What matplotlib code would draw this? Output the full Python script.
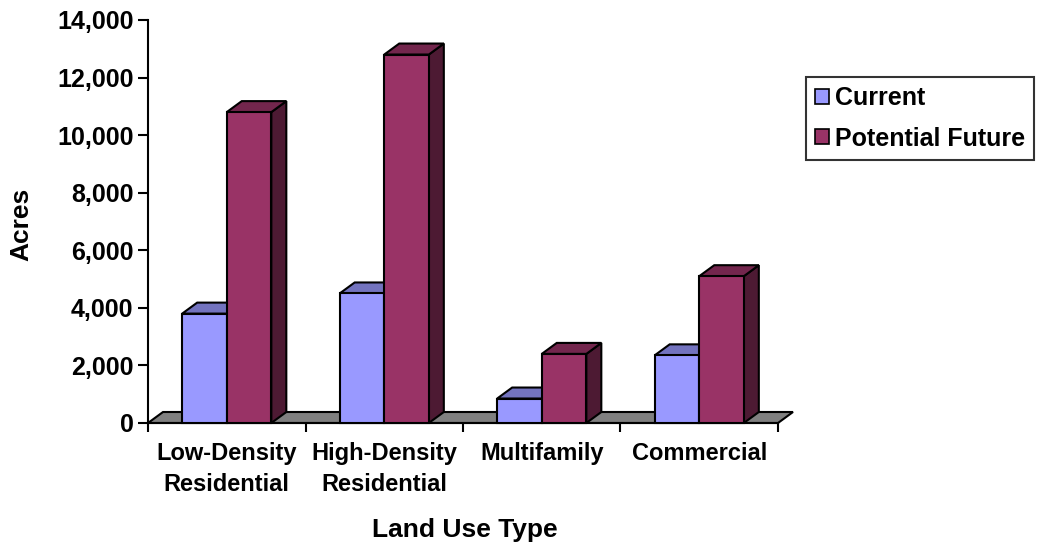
import numpy as np
import matplotlib
matplotlib.use("Agg")
import matplotlib.pyplot as plt
from matplotlib.patches import Polygon, Patch
from matplotlib.ticker import FixedLocator, FuncFormatter, NullFormatter

# ---- data ----
categories = ["Low-Density\nResidential", "High-Density\nResidential", "Multifamily", "Commercial"]
series_names = ["Current", "Potential Future"]
current = [3800, 4500, 850, 2350]
future = [10800, 12800, 2400, 5100]
y_ticks = [0, 2000, 4000, 6000, 8000, 10000, 12000, 14000]

# ---- style ----
plt.rcParams['font.family'] = ['Liberation Sans', 'DejaVu Sans']
plt.rcParams['font.weight'] = 'bold'
front_cols = ['#9999FF', '#993366']
top_cols = ['#7373BF', '#73264D']
side_cols = ['#5C5C99', '#4D1A33']
LW = 1.5

W, H = 1041, 542
fig = plt.figure(figsize=(W / 100, H / 100), dpi=100)
ax = fig.add_axes([148 / W, 1 - 423 / H, 630 / W, 403 / H])
n = len(categories)
ax.set_xlim(0, n)
ax.set_ylim(y_ticks[0], y_ticks[-1])

# depth of the pseudo-3D offset, in data units
dx = 15 * n / 630
dy = 11 * (y_ticks[-1] - y_ticks[0]) / 403

# floor
floor = Polygon([(0, 0), (n, 0), (n + dx, dy), (dx, dy)], closed=True,
                fc='#808080', ec='black', lw=LW, clip_on=False, zorder=1)
ax.add_patch(floor)

bw = 0.283
x = np.arange(n)
offsets = [0.5 - bw, 0.5]
for si, vals in enumerate([current, future]):
    base_z = 3 + 2 * si
    bars = ax.bar(x + offsets[si], vals, width=bw, align='edge',
                  color=front_cols[si], edgecolor='black', lw=LW,
                  zorder=base_z + 1, clip_on=False)
    for b in bars:
        x0, w, h = b.get_x(), b.get_width(), b.get_height()
        top = Polygon([(x0, h), (x0 + w, h), (x0 + w + dx, h + dy), (x0 + dx, h + dy)],
                      closed=True, fc=top_cols[si], ec='black', lw=LW,
                      zorder=base_z, clip_on=False)
        side = Polygon([(x0 + w, 0), (x0 + w + dx, dy), (x0 + w + dx, h + dy), (x0 + w, h)],
                       closed=True, fc=side_cols[si], ec='black', lw=LW,
                       zorder=base_z, clip_on=False)
        ax.add_patch(side)
        ax.add_patch(top)

# axes styling
for s in ['top', 'right']:
    ax.spines[s].set_visible(False)
for s in ['left', 'bottom']:
    ax.spines[s].set_linewidth(LW)
    ax.spines[s].set_zorder(2)

ax.yaxis.set_major_locator(FixedLocator(y_ticks))
ax.yaxis.set_major_formatter(FuncFormatter(lambda v, p: f"{int(v):,}"))
ax.tick_params(axis='y', direction='out', length=7, width=LW, pad=3.5,
               labelsize=18)

ax.xaxis.set_major_locator(FixedLocator(np.arange(n + 1)))
ax.xaxis.set_major_formatter(NullFormatter())
ax.set_xticks(x + 0.5, minor=True)
ax.set_xticklabels(categories, minor=True, fontsize=17, fontweight='bold',
                   linespacing=1.42)
ax.tick_params(axis='x', which='major', direction='out', length=6.5, width=LW)
ax.tick_params(axis='x', which='minor', length=0, pad=14)

fig.text(465 / W, 1 - 536.5 / H, "Land Use Type", ha='center', va='baseline',
         fontsize=19, fontweight='bold')
fig.text(21 / W, 1 - 224 / H, "Acres", ha='center', va='center', rotation=90,
         fontsize=19, fontweight='bold')

handles = [Patch(fc=front_cols[i], ec='black', lw=1.2) for i in range(2)]
leg = fig.legend(handles, series_names, loc='upper left',
                 bbox_to_anchor=(806 / W, 1 - 77 / H),
                 frameon=True, fancybox=False, shadow=False,
                 handlelength=0.55, handleheight=0.55, handletextpad=0.25,
                 labelspacing=0.66, borderpad=0.36, borderaxespad=0,
                 prop={'weight': 'bold', 'size': 18})
leg.get_frame().set_edgecolor('black')
leg.get_frame().set_linewidth(LW)

fig.savefig("out.png", dpi=100)
